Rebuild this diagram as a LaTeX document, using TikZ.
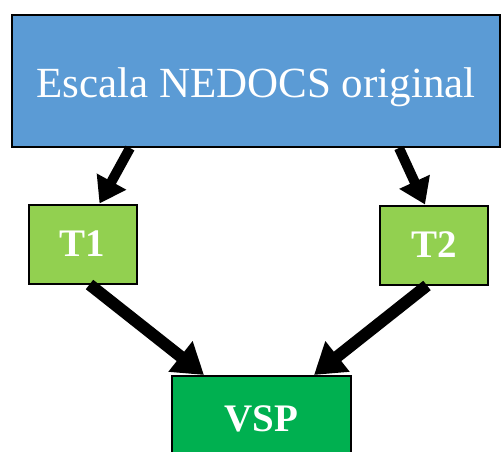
\documentclass[tikz,border=0pt]{standalone}
\usepackage{fontspec}
\setmainfont{Liberation Serif}
\usepackage{xcolor}
\usetikzlibrary{arrows.meta}

\definecolor{nedocsblue}{HTML}{5B9BD5}
\definecolor{tgreen}{HTML}{92D050}
\definecolor{vspgreen}{HTML}{00B050}

\begin{document}
\begin{tikzpicture}[
            escalabox/.style={rectangle, draw, line width=2pt, fill=nedocsblue,
            text=white, font=\fontsize{43}{47}\selectfont,
            text height=44pt, text depth=10pt,
            minimum width=488pt, minimum height=132pt, inner sep=0pt},
            tbox/.style={rectangle, draw, line width=2pt, fill=tgreen,
            text=white, font=\fontsize{39}{42}\selectfont\bfseries,
            minimum width=108pt, minimum height=79pt, inner sep=0pt},
            vspbox/.style={rectangle, draw, line width=2pt, fill=vspgreen,
            text=white, font=\fontsize{39}{42}\selectfont\bfseries,
            minimum width=179pt, minimum height=86pt, inner sep=0pt},
            arr_top/.style={-{Triangle[length=25pt, width=32pt]}, line width=10pt},
            arr_bot/.style={-{Triangle[length=30pt, width=37pt]}, line width=12pt},
        ]
            \useasboundingbox (0pt,0pt) rectangle (501pt,-452pt);

            %% Escala
            \node[escalabox] (escala) at (256pt,-81pt) {Escala NEDOCS original};

            %% T1 und T2
            \node[tbox] (t1) at (82.5pt,-244pt) {T1};
            \node[tbox] (t2) at (434pt,-245pt) {T2};

            %% VSP
            \node[vspbox] (vsp) at (261.5pt,-419pt) {VSP};

            %% Pfeile
            \draw[arr_top] ([xshift=119pt]escala.south west) -- ([xshift=72pt]t1.north west);
            \draw[arr_top] ([xshift=388pt]escala.south west) -- ([xshift=46pt]t2.north west);
            \draw[arr_bot] ([xshift=62pt]t1.south west) -- ([xshift=33pt]vsp.north west);
            \draw[arr_bot] ([xshift=48pt]t2.south west) -- ([xshift=143pt]vsp.north west);

        \end{tikzpicture}
\end{document}
